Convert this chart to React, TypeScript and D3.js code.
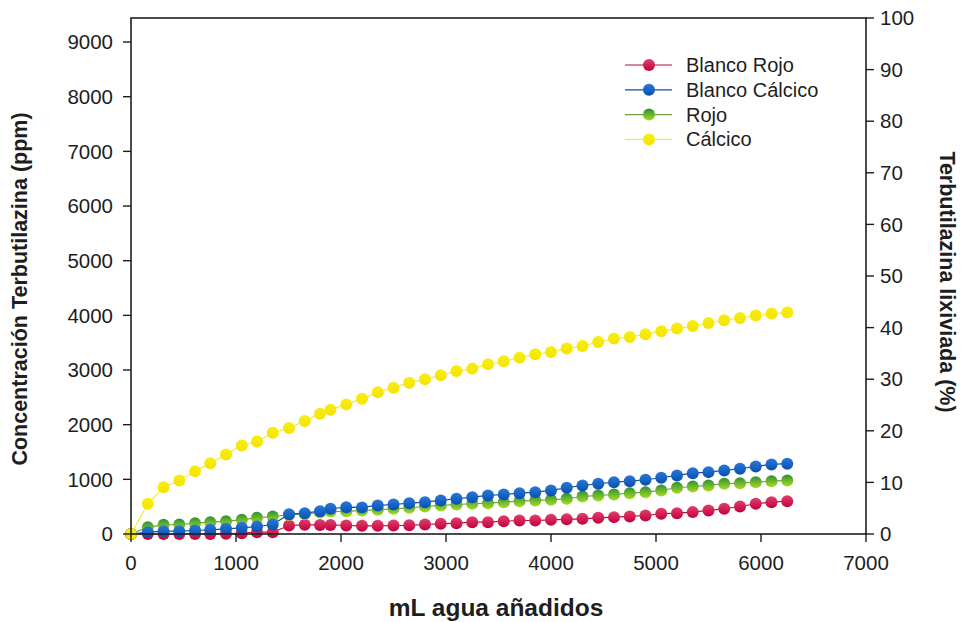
import React from 'react';
import * as d3 from 'd3';

// mL of water added (shared by all series)
const mL = [0, 160, 310, 460, 610, 755, 905, 1055, 1200, 1350, 1505, 1655, 1800, 1900, 2050, 2200, 2350, 2500,
  2650, 2800, 2950, 3100, 3250, 3400, 3550, 3700, 3850, 4000, 4150, 4300, 4450, 4600, 4750, 4900, 5050, 5200,
  5350, 5500, 5650, 5800, 5950, 6100, 6250];

// Terbutilazina lixiviada (%)
const blancoRojo = [0, 0, 0, 0, 0, 0, 0.04, 0.16, 0.35, 0.35, 1.65, 1.78, 1.75, 1.75, 1.65, 1.58, 1.58, 1.65,
  1.68, 1.84, 1.98, 2.09, 2.29, 2.29, 2.48, 2.62, 2.62, 2.75, 2.85, 2.95, 3.14, 3.27, 3.4, 3.59, 3.92, 4.04,
  4.24, 4.56, 4.89, 5.33, 5.86, 6.17, 6.36];
const blancoCalcico = [0, 0.35, 0.54, 0.54, 0.68, 0.81, 1.01, 1.2, 1.45, 1.84, 3.85, 4.03, 4.42, 4.89, 5.2,
  5.15, 5.53, 5.72, 5.97, 6.17, 6.5, 6.83, 7.14, 7.47, 7.66, 7.91, 8.11, 8.44, 8.96, 9.41, 9.74, 10.05, 10.24,
  10.51, 10.9, 11.35, 11.79, 11.99, 12.32, 12.65, 13.09, 13.48, 13.62];
const rojo = [0, 1.32, 1.78, 1.84, 2.09, 2.29, 2.48, 2.75, 3.14, 3.39, 3.69, 3.88, 4.17, 4.36, 4.4, 4.56, 4.69,
  4.89, 5.08, 5.33, 5.53, 5.72, 5.86, 5.97, 6.17, 6.36, 6.5, 6.63, 6.83, 7.27, 7.47, 7.66, 7.91, 8.11, 8.44,
  8.96, 9.21, 9.41, 9.74, 9.85, 10.05, 10.24, 10.38];
const calcico = [0, 5.86, 9.08, 10.38, 12.18, 13.73, 15.42, 17.17, 17.94, 19.63, 20.56, 21.88, 23.32, 24.09,
  25.12, 26.23, 27.45, 28.36, 29.33, 29.97, 30.75, 31.58, 32.05, 32.88, 33.46, 34.18, 34.82, 35.27, 35.93,
  36.43, 37.21, 37.87, 38.18, 38.7, 39.28, 39.81, 40.31, 40.89, 41.42, 41.86, 42.33, 42.72, 42.91];

const seriesNames = ['Blanco Rojo', 'Blanco Cálcico', 'Rojo', 'Cálcico'];
const xTicks = [0, 1000, 2000, 3000, 4000, 5000, 6000, 7000];
const ppmTicks = [0, 1000, 2000, 3000, 4000, 5000, 6000, 7000, 8000, 9000];
const pctTicks = [0, 10, 20, 30, 40, 50, 60, 70, 80, 90, 100];

const W = 962;
const H = 622;
const m = { left: 131, right: 866, top: 18, bottom: 534 };
const font = 'Arial, "Liberation Sans", sans-serif';
const ink = '#1e1e1e';

const styles = [
  { line: '#b0103c', top: '#e0406e', bottom: '#c4003c' },
  { line: '#1050a0', top: '#2a78d8', bottom: '#0850b0' },
  { line: '#70a040', top: '#2e9038', bottom: '#a8dc20' },
  { line: '#f2ec40', top: '#f8ee10', bottom: '#f4e400' },
];

export default function App() {
  const x = d3.scaleLinear().domain([0, 7000]).range([m.left, m.right]);
  const yPct = d3.scaleLinear().domain([0, 100]).range([m.bottom, m.top]);
  const yPpm = d3.scaleLinear().domain([0, 9440]).range([m.bottom, m.top]);

  const data = [blancoRojo, blancoCalcico, rojo, calcico];
  const line = d3.line<number>().x((_, i) => x(mL[i])).y(d => yPct(d));
  // draw order: red, green, blue, yellow (blue sits over the other two)
  const order = [0, 2, 1, 3];

  return (
    <svg width={W} height={H} style={{ position: 'absolute', left: 0, top: 0, background: '#fff' }}
      fontFamily={font}>
      <defs>
        {styles.map((s, i) => (
          <linearGradient key={i} id={`g${i}`} x1="0" y1="0" x2="0" y2="1">
            <stop offset="0%" stopColor={s.top} />
            <stop offset="100%" stopColor={s.bottom} />
          </linearGradient>
        ))}
      </defs>

      {order.map(si => (
        <g key={si}>
          <path d={line(data[si]) || ''} fill="none" stroke={styles[si].line} strokeWidth={1.2} />
          {data[si].map((v, i) => (
            <circle key={i} cx={x(mL[i])} cy={yPct(v)} r={6} fill={`url(#g${si})`} />
          ))}
        </g>
      ))}

      {/* frame */}
      <rect x={m.left} y={m.top} width={m.right - m.left} height={m.bottom - m.top}
        fill="none" stroke={ink} strokeWidth={1.6} />

      {/* bottom axis */}
      {xTicks.map(t => (
        <g key={t}>
          <line x1={x(t)} x2={x(t)} y1={m.bottom} y2={m.bottom + 8} stroke={ink} strokeWidth={1.4} />
          <text x={x(t)} y={m.bottom + 36} textAnchor="middle" fontSize={20.5} fill={ink}>{t}</text>
        </g>
      ))}

      {/* left axis */}
      {ppmTicks.map(t => (
        <g key={t}>
          <line x1={m.left - 8} x2={m.left} y1={yPpm(t)} y2={yPpm(t)} stroke={ink} strokeWidth={1.4} />
          <text x={m.left - 18} y={yPpm(t)} dy="0.35em" textAnchor="end" fontSize={20.5} fill={ink}>{t}</text>
        </g>
      ))}

      {/* right axis */}
      {pctTicks.map(t => (
        <g key={t}>
          <line x1={m.right} x2={m.right + 8} y1={yPct(t)} y2={yPct(t)} stroke={ink} strokeWidth={1.4} />
          <text x={m.right + 14} y={yPct(t)} dy="0.35em" textAnchor="start" fontSize={20.5} fill={ink}>{t}</text>
        </g>
      ))}

      {/* axis titles */}
      <text transform={`translate(27,289) rotate(-90)`} textAnchor="middle"
        fontSize={21.5} fontWeight="bold" fill={ink}>Concentración Terbutilazina (ppm)</text>
      <text transform={`translate(940,282) rotate(90)`} textAnchor="middle"
        fontSize={21.5} fontWeight="bold" fill={ink}>Terbutilazina lixiviada (%)</text>
      <text x={496} y={616} textAnchor="middle" fontSize={24.5} fontWeight="bold"
        fill={ink}>mL agua añadidos</text>

      {/* legend */}
      {seriesNames.map((name, i) => {
        const ly = 65 + i * 24.8;
        return (
          <g key={name}>
            <line x1={625} x2={672} y1={ly} y2={ly} stroke={styles[i].line} strokeWidth={1.2} />
            <circle cx={649} cy={ly} r={6} fill={`url(#g${i})`} />
            <text x={686} y={ly} dy="0.35em" fontSize={20} fill={ink}>{name}</text>
          </g>
        );
      })}
    </svg>
  );
}
